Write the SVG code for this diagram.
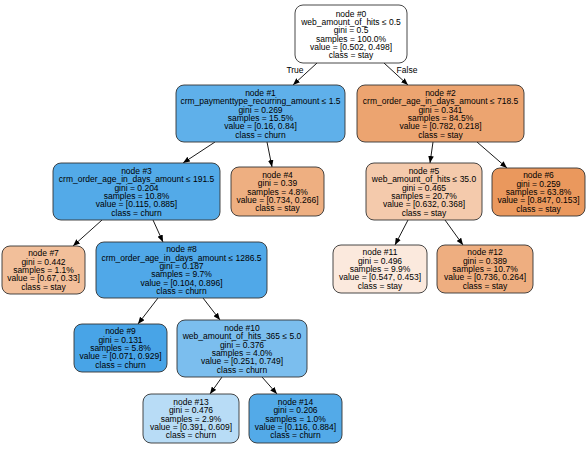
<svg xmlns="http://www.w3.org/2000/svg" width="587" height="451" viewBox="0 0 587 451">
<style>
.n{stroke:#333;stroke-width:0.9}
text{font-family:"Liberation Sans",Arial,Helvetica,sans-serif;font-size:8.5px;text-anchor:middle;fill:#000}
.e{stroke:#000;stroke-width:0.9;fill:none;marker-end:url(#a)}
</style>
<defs>
<marker id="a" markerUnits="userSpaceOnUse" markerWidth="7" markerHeight="6" refX="7" refY="3" orient="auto">
<path d="M0,0.2 L7,3 L0,5.8 z" fill="#000"/>
</marker>
</defs>
<rect width="587" height="451" fill="#fff"/>
<g id="connectors">
<line class="e" x1="317" y1="63" x2="293" y2="85"/>
<line class="e" x1="384" y1="63" x2="408" y2="85"/>
<line class="e" x1="215" y1="142" x2="183" y2="163"/>
<line class="e" x1="267" y1="142" x2="272" y2="167"/>
<line class="e" x1="433" y1="142" x2="430" y2="163"/>
<line class="e" x1="477" y1="142" x2="507" y2="168"/>
<line class="e" x1="102" y1="220" x2="73" y2="246"/>
<line class="e" x1="153" y1="220" x2="163" y2="242"/>
<line class="e" x1="408" y1="220" x2="395" y2="245"/>
<line class="e" x1="445" y1="220" x2="463" y2="245"/>
<line class="e" x1="158" y1="298" x2="138" y2="324"/>
<line class="e" x1="203" y1="298" x2="220" y2="320"/>
<line class="e" x1="222" y1="377" x2="210" y2="394"/>
<line class="e" x1="262" y1="377" x2="277" y2="394"/>
<text x="295" y="73">True</text>
<text x="407" y="73">False</text>
</g>
<g id="node0">
<rect class="n" x="295" y="5" width="112" height="58" rx="8" fill="#ffffff"/>
<text x="351" y="16.5"><tspan x="351">node #0</tspan><tspan x="351" dy="8.35">web_amount_of_hits ≤ 0.5</tspan><tspan x="351" dy="8.35">gini = 0.5</tspan><tspan x="351" dy="8.35">samples = 100.0%</tspan><tspan x="351" dy="8.35">value = [0.502, 0.498]</tspan><tspan x="351" dy="8.35">class = stay</tspan></text>
</g>
<g id="node1">
<rect class="n" x="176" y="85" width="169" height="57" rx="8" fill="#5fb0ea"/>
<text x="260.5" y="95.8"><tspan x="260.5">node #1</tspan><tspan x="260.5" dy="8.35">crm_paymenttype_recurring_amount ≤ 1.5</tspan><tspan x="260.5" dy="8.35">gini = 0.269</tspan><tspan x="260.5" dy="8.35">samples = 15.5%</tspan><tspan x="260.5" dy="8.35">value = [0.16, 0.84]</tspan><tspan x="260.5" dy="8.35">class = churn</tspan></text>
</g>
<g id="node2">
<rect class="n" x="357" y="85" width="167" height="57" rx="8" fill="#eca470"/>
<text x="440.5" y="95.8"><tspan x="440.5">node #2</tspan><tspan x="440.5" dy="8.35">crm_order_age_in_days_amount ≤ 718.5</tspan><tspan x="440.5" dy="8.35">gini = 0.341</tspan><tspan x="440.5" dy="8.35">samples = 84.5%</tspan><tspan x="440.5" dy="8.35">value = [0.782, 0.218]</tspan><tspan x="440.5" dy="8.35">class = stay</tspan></text>
</g>
<g id="node3">
<rect class="n" x="53" y="163" width="167" height="57" rx="8" fill="#53aae8"/>
<text x="136.5" y="173.8"><tspan x="136.5">node #3</tspan><tspan x="136.5" dy="8.35">crm_order_age_in_days_amount ≤ 191.5</tspan><tspan x="136.5" dy="8.35">gini = 0.204</tspan><tspan x="136.5" dy="8.35">samples = 10.8%</tspan><tspan x="136.5" dy="8.35">value = [0.115, 0.885]</tspan><tspan x="136.5" dy="8.35">class = churn</tspan></text>
</g>
<g id="node4">
<rect class="n" x="231" y="167" width="93" height="49" rx="8" fill="#eeaf81"/>
<text x="277.5" y="177.8"><tspan x="277.5">node #4</tspan><tspan x="277.5" dy="8.35">gini = 0.39</tspan><tspan x="277.5" dy="8.35">samples = 4.8%</tspan><tspan x="277.5" dy="8.35">value = [0.734, 0.266]</tspan><tspan x="277.5" dy="8.35">class = stay</tspan></text>
</g>
<g id="node5">
<rect class="n" x="366" y="163" width="116" height="57" rx="8" fill="#f4caac"/>
<text x="424" y="173.8"><tspan x="424">node #5</tspan><tspan x="424" dy="8.35">web_amount_of_hits ≤ 35.0</tspan><tspan x="424" dy="8.35">gini = 0.465</tspan><tspan x="424" dy="8.35">samples = 20.7%</tspan><tspan x="424" dy="8.35">value = [0.632, 0.368]</tspan><tspan x="424" dy="8.35">class = stay</tspan></text>
</g>
<g id="node6">
<rect class="n" x="492" y="168" width="93" height="48" rx="8" fill="#ea985d"/>
<text x="538.5" y="178.3"><tspan x="538.5">node #6</tspan><tspan x="538.5" dy="8.35">gini = 0.259</tspan><tspan x="538.5" dy="8.35">samples = 63.8%</tspan><tspan x="538.5" dy="8.35">value = [0.847, 0.153]</tspan><tspan x="538.5" dy="8.35">class = stay</tspan></text>
</g>
<g id="node7">
<rect class="n" x="2" y="246" width="83" height="48" rx="8" fill="#f2bf9a"/>
<text x="43.5" y="256.3"><tspan x="43.5">node #7</tspan><tspan x="43.5" dy="8.35">gini = 0.442</tspan><tspan x="43.5" dy="8.35">samples = 1.1%</tspan><tspan x="43.5" dy="8.35">value = [0.67, 0.33]</tspan><tspan x="43.5" dy="8.35">class = stay</tspan></text>
</g>
<g id="node8">
<rect class="n" x="96" y="242" width="171" height="56" rx="8" fill="#50a8e8"/>
<text x="181.5" y="252.3"><tspan x="181.5">node #8</tspan><tspan x="181.5" dy="8.35">crm_order_age_in_days_amount ≤ 1286.5</tspan><tspan x="181.5" dy="8.35">gini = 0.187</tspan><tspan x="181.5" dy="8.35">samples = 9.7%</tspan><tspan x="181.5" dy="8.35">value = [0.104, 0.896]</tspan><tspan x="181.5" dy="8.35">class = churn</tspan></text>
</g>
<g id="node9">
<rect class="n" x="74" y="324" width="93" height="48" rx="8" fill="#48a4e7"/>
<text x="120.5" y="334.3"><tspan x="120.5">node #9</tspan><tspan x="120.5" dy="8.35">gini = 0.131</tspan><tspan x="120.5" dy="8.35">samples = 5.8%</tspan><tspan x="120.5" dy="8.35">value = [0.071, 0.929]</tspan><tspan x="120.5" dy="8.35">class = churn</tspan></text>
</g>
<g id="node10">
<rect class="n" x="177" y="320" width="130" height="57" rx="8" fill="#7bbeee"/>
<text x="242" y="330.8"><tspan x="242">node #10</tspan><tspan x="242" dy="8.35">web_amount_of_hits_365 ≤ 5.0</tspan><tspan x="242" dy="8.35">gini = 0.376</tspan><tspan x="242" dy="8.35">samples = 4.0%</tspan><tspan x="242" dy="8.35">value = [0.251, 0.749]</tspan><tspan x="242" dy="8.35">class = churn</tspan></text>
</g>
<g id="node11">
<rect class="n" x="333" y="245" width="94" height="48" rx="8" fill="#fbe9dd"/>
<text x="380" y="255.3"><tspan x="380">node #11</tspan><tspan x="380" dy="8.35">gini = 0.496</tspan><tspan x="380" dy="8.35">samples = 9.9%</tspan><tspan x="380" dy="8.35">value = [0.547, 0.453]</tspan><tspan x="380" dy="8.35">class = stay</tspan></text>
</g>
<g id="node12">
<rect class="n" x="437" y="245" width="96" height="48" rx="8" fill="#eeae80"/>
<text x="485" y="255.3"><tspan x="485">node #12</tspan><tspan x="485" dy="8.35">gini = 0.389</tspan><tspan x="485" dy="8.35">samples = 10.7%</tspan><tspan x="485" dy="8.35">value = [0.736, 0.264]</tspan><tspan x="485" dy="8.35">class = stay</tspan></text>
</g>
<g id="node13">
<rect class="n" x="143" y="394" width="96" height="49" rx="8" fill="#b8dcf6"/>
<text x="191" y="404.8"><tspan x="191">node #13</tspan><tspan x="191" dy="8.35">gini = 0.476</tspan><tspan x="191" dy="8.35">samples = 2.9%</tspan><tspan x="191" dy="8.35">value = [0.391, 0.609]</tspan><tspan x="191" dy="8.35">class = churn</tspan></text>
</g>
<g id="node14">
<rect class="n" x="249" y="394" width="93" height="49" rx="8" fill="#53aae8"/>
<text x="295.5" y="404.8"><tspan x="295.5">node #14</tspan><tspan x="295.5" dy="8.35">gini = 0.206</tspan><tspan x="295.5" dy="8.35">samples = 1.0%</tspan><tspan x="295.5" dy="8.35">value = [0.116, 0.884]</tspan><tspan x="295.5" dy="8.35">class = churn</tspan></text>
</g>
</svg>
